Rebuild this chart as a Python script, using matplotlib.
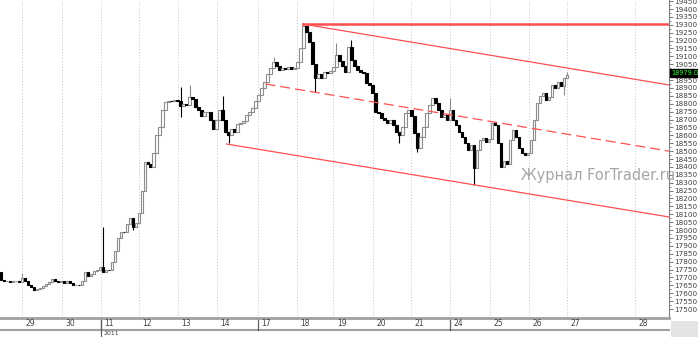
import numpy as np
import matplotlib.pyplot as plt
from matplotlib.transforms import blended_transform_factory

# hourly closes, one per candle (open = previous close)
first_open = 17735
closes = [
    17685, 17675, 17680, 17670, 17675, 17680, 17670, 17695, 17680, 17655,
    17640, 17620, 17625, 17635, 17645, 17660, 17670, 17690, 17680, 17670,
    17675, 17665, 17680, 17665, 17655, 17655, 17650, 17675, 17735, 17710,
    17720, 17740, 17750, 17765, 17735, 17750, 17745, 17800, 17870, 17950,
    17990, 17985, 18040, 18075, 18020, 18045, 18110, 18250, 18430, 18420,
    18400, 18490, 18600, 18650, 18760, 18810, 18820, 18815, 18825, 18820,
    18785, 18800, 18790, 18845, 18830, 18780, 18760, 18720, 18745, 18750,
    18700, 18640, 18700, 18760, 18700, 18620, 18600, 18640, 18620, 18670,
    18680, 18690, 18730, 18750, 18775, 18820, 18855, 18900, 18940, 18990,
    19025, 19065, 19040, 19013, 19025, 19020, 19030, 19020, 19025, 19065,
    19150, 19290, 19255, 19190, 19050, 18960, 18990, 18960, 19000, 18995,
    19010, 19030, 19110, 19070, 19040, 19000, 19160, 19077, 19040, 19013,
    19000, 18995, 18930, 18920, 18870, 18750, 18740, 18710, 18700, 18680,
    18700, 18665, 18620, 18600, 18650, 18740, 18760, 18720, 18615, 18520,
    18590, 18650, 18740, 18790, 18835, 18805, 18760, 18716, 18730, 18700,
    18760, 18700, 18665, 18620, 18590, 18550, 18510, 18540, 18390, 18510,
    18570, 18580, 18560, 18575, 18680, 18665, 18550, 18400, 18440, 18420,
    18570, 18635, 18590, 18520, 18490, 18475, 18490, 18570, 18700, 18805,
    18850, 18870, 18825, 18840, 18920, 18900, 18940, 18910, 18965, 18980,
]
# wick extremes that stick out of the bodies
wick_hi = {7: 17728, 34: 18020, 60: 18906, 63: 18920, 74: 18850, 91: 19095,
           101: 19310, 112: 19185, 117: 19205, 150: 18837, 189: 19000}
wick_lo = {44: 18000, 60: 18716, 76: 18550, 105: 18875, 133: 18550,
           139: 18495, 158: 18285, 188: 18855}

day_pos = [7, 20.3, 33.3, 46, 59, 72, 85.7, 98.7, 111, 124.3, 137, 150,
           163.3, 176.3, 189, 211.7]
day_labels = ["29", "30", "11", "12", "13", "14", "17", "18", "19", "20",
              "21", "24", "25", "26", "27", "28"]
week_starts = [33.3, 85.7, 150]

# channel lines: (x0, y0, x1, y1)
resist_level = (100.7, 19305, 223, 19305)
upper_line = (100.7, 19305, 223, 18919)
mid_line = (88.3, 18925, 223, 18500)
lower_line = (75.3, 18545, 223, 18083)
last_price = "18979.0"
price_ticks = np.arange(17500, 19451, 50)

fig = plt.figure(figsize=(6.98, 3.37), dpi=100)
ax = fig.add_axes([0, 1 - 318 / 337, 669 / 698, 318 / 337])
ax.set_xlim(-0.3, 223)
ax.set_ylim(17443, 19457)

for x in day_pos:
    ax.axvline(x, color="#c4c4c4", lw=0.7, ls=(0, (1, 2)), zorder=0)

opens = [first_open] + closes[:-1]
idx = np.arange(len(closes))
for i, o, c in zip(idx, opens, closes):
    up = c >= o
    hi = max(wick_hi.get(i, max(o, c)), o, c)
    lo = min(wick_lo.get(i, min(o, c)), o, c)
    col = "#8c8c8c" if up else "black"
    ax.vlines(i, lo, hi, color=col, lw=0.8, zorder=2)
    ax.bar(i, c - o, bottom=o, width=0.8,
           facecolor="white" if up else "black",
           edgecolor=col, linewidth=0.8, zorder=3)

red = "#ff5050"
ax.plot(resist_level[::2], resist_level[1::2], color=red, lw=1.8, zorder=4)
ax.plot(upper_line[::2], upper_line[1::2], color=red, lw=0.9, zorder=4)
ax.plot(mid_line[::2], mid_line[1::2], color=red, lw=0.9, ls=(0, (8, 4)), zorder=4)
ax.plot(lower_line[::2], lower_line[1::2], color=red, lw=0.9, zorder=4)

ax.text(521 / 669, 1 - 175 / 318, "Журнал ForTrader.ru", transform=ax.transAxes,
        fontsize=10.5, color="#a6a6a6", va="center", ha="left", zorder=5)

# right price axis
for s in ["top", "left"]:
    ax.spines[s].set_visible(False)
ax.spines["right"].set_color("#808080")
ax.spines["bottom"].set_color("#a0a0a0")
ax.spines["bottom"].set_linewidth(2)
ax.yaxis.tick_right()
ax.set_yticks(price_ticks)
# the last-price tag hides the 19000 label
ax.set_yticklabels(["" if v == 19000 else str(v) for v in price_ticks])
ax.set_yticks(np.arange(17525, 19451, 50), minor=True)
ax.tick_params(axis="y", which="major", length=3, width=0.6, color="#606060",
               labelsize=5.2, labelcolor="#404040", pad=1)
ax.tick_params(axis="y", which="minor", length=1.5, width=0.5, color="#606060")
ax.set_xticks([])

ax.text(1.003, 18995, last_price, transform=blended_transform_factory(ax.transAxes, ax.transData),
        fontsize=4.8, color="#20ff20", va="center", ha="left", zorder=6,
        bbox=dict(boxstyle="square,pad=0.15", fc="black", ec="black"))

# date bar below the chart
tr = blended_transform_factory(ax.transData, ax.transAxes)
ax.plot([-0.3, 223], [-12 / 318, -12 / 318], transform=tr, clip_on=False,
        color="#a0a0a0", lw=1.5)
for x, lab in zip(day_pos, day_labels):
    ax.text(x + 1.2, -6 / 318, lab, transform=tr, fontsize=5.5, color="#404040",
            va="center", ha="left", clip_on=False)
for x in week_starts:
    ax.plot([x, x], [0, -12 / 318], transform=tr, clip_on=False, color="#606060", lw=0.9)
ax.plot([33.3, 33.3], [0, -19 / 318], transform=tr, clip_on=False, color="#606060", lw=0.9)
ax.text(34.3, -15.5 / 318, "2011", transform=tr, fontsize=4.5, color="#404040",
        va="center", ha="left", clip_on=False)

fig.patches.append(plt.Rectangle((671 / 698, 0), 27 / 698, 16 / 337,
                                 transform=fig.transFigure, fc="#e4e4e4", ec="none"))

fig.savefig("out.png", dpi=100)
